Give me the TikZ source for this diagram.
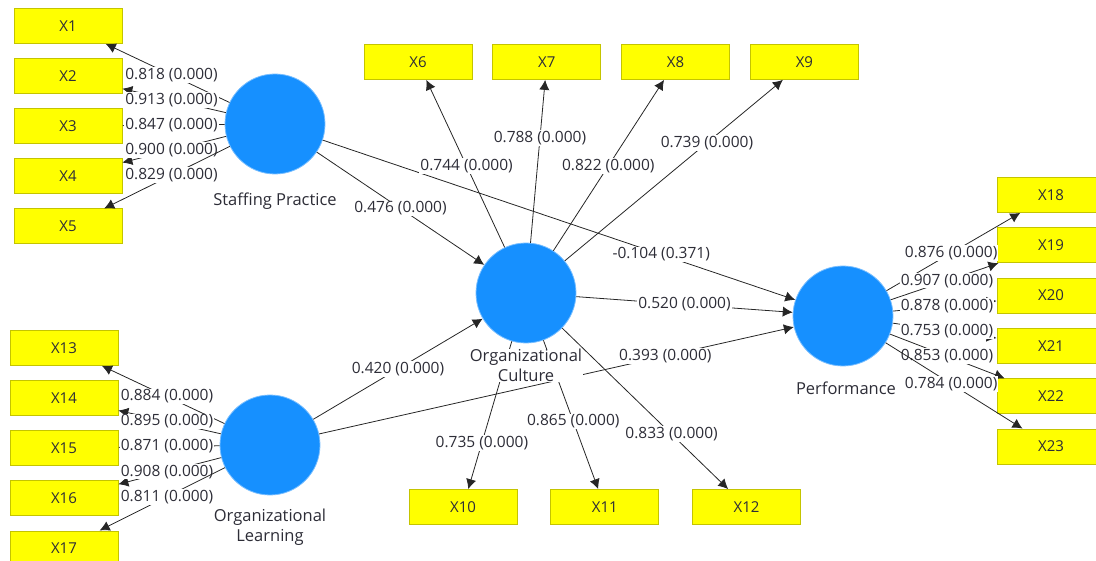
\documentclass[tikz,border=0pt]{standalone}
\usepackage{fontspec}
\setmainfont{Open Sans}
\usepackage{xcolor}
\usetikzlibrary{positioning, calc}
\usetikzlibrary{arrows.meta}
\tikzset{>={Latex[width=3.6mm,length=3.5mm]}}
\definecolor{boxyellow}{RGB}{255,255,0}
\definecolor{boxedge}{RGB}{196,196,0}
\definecolor{lvblue}{RGB}{22,144,255}
\definecolor{lvedge}{RGB}{120,190,255}
\definecolor{txt}{RGB}{45,45,55}

\begin{document}
\begin{tikzpicture}[x=1pt, y=-1pt, indicator/.style={rectangle, draw=boxedge, fill=boxyellow, line width=0.8pt, minimum width=108pt, minimum height=35pt, inner sep=0pt, text=txt, font=\fontsize{15}{18}\selectfont}, construct/.style={circle, draw=lvedge, fill=lvblue, line width=0.8pt, minimum size=100pt, inner sep=0pt}, lvname/.style={fill=white, inner sep=0.5pt, align=center, text=txt, font=\fontsize{16.5}{19.5}\selectfont}, loading/.style={fill=white, inner sep=1pt, text=txt, font=\fontsize{15.5}{18}\selectfont}, link/.style={->, line width=0.8pt, draw=black!85}]

    \useasboundingbox (0,0) rectangle (1096,561);

    %Latent variables
    \node[construct](sp) at (275,124){};
    \node[construct](oc) at (526,293){};
    \node[construct](ol) at (270,445){};
    \node[construct](perf) at (843,316){};

    %Indicators
    \node[indicator](x1) at (68,26){X1};
    \node[indicator](x2)[below=14.3pt of x1]{X2};
    \node[indicator](x3)[below=14.3pt of x2]{X3};
    \node[indicator](x4)[below=14.3pt of x3]{X4};
    \node[indicator](x5)[below=14.3pt of x4]{X5};
    \node[indicator](x6) at (418,62){X6};
    \node[indicator](x7)[right=20pt of x6]{X7};
    \node[indicator](x8)[right=20pt of x7]{X8};
    \node[indicator](x9)[right=20pt of x8]{X9};
    \node[indicator](x10) at (463,507){X10};
    \node[indicator](x11)[right=33pt of x10]{X11};
    \node[indicator](x12)[right=33pt of x11]{X12};
    \node[indicator](x13) at (64,348){X13};
    \node[indicator](x14)[below=14.3pt of x13]{X14};
    \node[indicator](x15)[below=14.3pt of x14]{X15};
    \node[indicator](x16)[below=14.3pt of x15]{X16};
    \node[indicator](x17)[below=14.3pt of x16]{X17};
    \node[indicator](x18) at (1051,195){X18};
    \node[indicator](x19)[below=14.5pt of x18]{X19};
    \node[indicator](x20)[below=14.5pt of x19]{X20};
    \node[indicator](x21)[below=14.5pt of x20]{X21};
    \node[indicator](x22)[below=14.5pt of x21]{X22};
    \node[indicator](x23)[below=14.5pt of x22]{X23};

    %Inner model
    \draw[link] (sp) -- (oc);
    \node[loading](b1) at ($(sp)!0.5!(oc)$){0.476 (0.000)};
    \draw[link] (sp) -- (perf);
    \node[loading](b2) at ($(sp)!0.68!(perf)$){-0.104 (0.371)};
    \draw[link] (ol) -- (oc);
    \node[loading](b3) at ($(ol)!0.5!(oc)$){0.420 (0.000)};
    \draw[link] (oc) -- (perf);
    \node[loading](b4) at ($(oc)!0.5!(perf)$){0.520 (0.000)};
    \draw[link] (ol) -- (perf);
    \node[loading](b5) at ($(ol)!0.69!(perf)$){0.393 (0.000)};

    %Staffing Practice loadings
    \draw[link] (sp) -- (x1);
    \node[loading](l1) at ($(sp)!0.5!(x1)$){0.818 (0.000)};
    \draw[link] (sp) -- (x2);
    \node[loading](l2) at ($(sp)!0.5!(x2)$){0.913 (0.000)};
    \draw[link] (sp) -- (x3);
    \node[loading](l3) at ($(sp)!0.5!(x3)$){0.847 (0.000)};
    \draw[link] (sp) -- (x4);
    \node[loading](l4) at ($(sp)!0.5!(x4)$){0.900 (0.000)};
    \draw[link] (sp) -- (x5);
    \node[loading](l5) at ($(sp)!0.5!(x5)$){0.829 (0.000)};

    %Organizational Culture loadings
    \draw[link] (oc) -- (x6);
    \node[loading](l6) at ($(oc)!0.55!(x6)$){0.744 (0.000)};
    \draw[link] (oc) -- (x7);
    \node[loading](l7) at ($(oc)!0.67!(x7)$){0.788 (0.000)};
    \draw[link] (oc) -- (x8);
    \node[loading](l8) at ($(oc)!0.55!(x8)$){0.822 (0.000)};
    \draw[link] (oc) -- (x9);
    \node[loading](l9) at ($(oc)!0.65!(x9)$){0.739 (0.000)};
    \draw[link] (oc) -- (x10);
    \node[loading](l10) at ($(oc)!0.70!(x10)$){0.735 (0.000)};
    \draw[link] (oc) -- (x11);
    \node[loading](l11) at ($(oc)!0.60!(x11)$){0.865 (0.000)};
    \draw[link] (oc) -- (x12);
    \node[loading](l12) at ($(oc)!0.66!(x12)$){0.833 (0.000)};

    %Organizational Learning loadings
    \draw[link] (ol) -- (x13);
    \node[loading](l13) at ($(ol)!0.5!(x13)$){0.884 (0.000)};
    \draw[link] (ol) -- (x14);
    \node[loading](l14) at ($(ol)!0.5!(x14)$){0.895 (0.000)};
    \draw[link] (ol) -- (x15);
    \node[loading](l15) at ($(ol)!0.5!(x15)$){0.871 (0.000)};
    \draw[link] (ol) -- (x16);
    \node[loading](l16) at ($(ol)!0.5!(x16)$){0.908 (0.000)};
    \draw[link] (ol) -- (x17);
    \node[loading](l17) at ($(ol)!0.5!(x17)$){0.811 (0.000)};

    %Performance loadings
    \draw[link] (perf) -- (x18);
    \node[loading](l18) at ($(perf)!0.52!(x18)$){0.876 (0.000)};
    \draw[link] (perf) -- (x19);
    \node[loading](l19) at ($(perf)!0.5!(x19)$){0.907 (0.000)};
    \draw[link] (perf) -- (x20);
    \node[loading](l20) at ($(perf)!0.5!(x20)$){0.878 (0.000)};
    \draw[link] (perf) -- (x21);
    \node[loading](l21) at ($(perf)!0.5!(x21)$){0.753 (0.000)};
    \draw[link] (perf) -- (x22);
    \node[loading](l22) at ($(perf)!0.5!(x22)$){0.853 (0.000)};
    \draw[link] (perf) -- (x23);
    \node[loading](l23) at ($(perf)!0.52!(x23)$){0.784 (0.000)};

    %Construct names
    \node[lvname](sp_name)[below=18pt of sp]{Staffing Practice};
    \node[lvname](oc_name)[below=5pt of oc]{Organizational\\Culture};
    \node[lvname](ol_name)[below=13pt of ol]{Organizational\\Learning};
    \node[lvname](perf_name)[below=15pt of perf, xshift=3pt]{Performance};

\end{tikzpicture}
\end{document}
